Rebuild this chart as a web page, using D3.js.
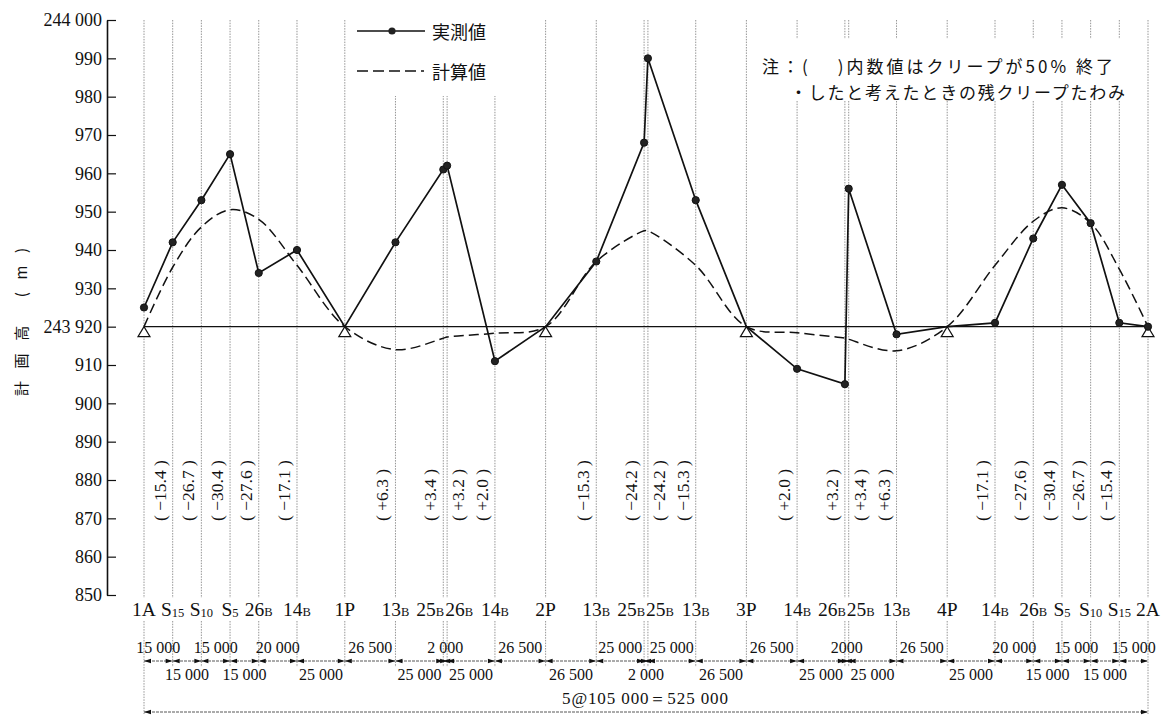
<!DOCTYPE html>
<html>
<head>
<meta charset="utf-8">
<script src="https://cdn.jsdelivr.net/npm/d3@7"></script>
<style>
  body { margin: 0; background: #fff; }
  svg text { font-family: "Liberation Serif", "DejaVu Serif", serif; fill: #111; }
  svg text.jp { font-family: "Noto Sans CJK JP", "Noto Sans CJK SC", sans-serif; }
</style>
</head>
<body>
<svg id="chart" width="1162" height="715"></svg>
<script>
// Stations along the 5-span girder, distance from abutment 1A (mm)
const stationPos = [0, 15000, 30000, 45000, 60000, 80000, 105000,
  131500, 156500, 158500, 183500, 210000,
  236500, 261500, 263500, 288500, 315000,
  341500, 366500, 368500, 393500, 420000,
  445000, 465000, 480000, 495000, 510000, 525000];

// Station names: [main text, subscript]
const stationName = [["1A",""],["S","15"],["S","10"],["S","5"],["26","B"],["14","B"],["1P",""],
  ["13","B"],["25","B"],["26","B"],["14","B"],["2P",""],
  ["13","B"],["25","B"],["25","B"],["13","B"],["3P",""],
  ["14","B"],["26","B"],["25","B"],["13","B"],["4P",""],
  ["14","B"],["26","B"],["S","5"],["S","10"],["S","15"],["2A",""]];

// Measured elevations (実測値)
const measured = [243925, 243942, 243953, 243965, 243934, 243940, 243920,
  243942, 243961, 243962, 243911, 243920,
  243937, 243968, 243990, 243953, 243920,
  243909, 243905, 243956, 243918, 243920,
  243921, 243943, 243957, 243947, 243921, 243920];

// Calculated elevations (計算値)
const calculated = [243920, 243935.5, 243946, 243950.5, 243948, 243936, 243920,
  243914, 243917, 243917.3, 243918.3, 243920,
  243937, 243945, 243945, 243936, 243920,
  243918.4, 243917, 243916.7, 243913.7, 243920,
  243936, 243947.5, 243951, 243947, 243935, 243920];

// Residual creep deflection at each station (50% creep completed)
const creepLabel = ["", "−15.4", "−26.7", "−30.4", "−27.6", "−17.1", "",
  "+6.3", "+3.4", "+3.2", "+2.0", "",
  "−15.3", "−24.2", "−24.2", "−15.3", "",
  "+2.0", "+3.2", "+3.4", "+6.3", "",
  "−17.1", "−27.6", "−30.4", "−26.7", "−15.4", ""];

// Segment dimensions between consecutive stations
const dimLabels = ["15 000","15 000","15 000","15 000","20 000","25 000",
  "26 500","25 000","2 000","25 000","26 500",
  "26 500","25 000","2 000","25 000","26 500",
  "26 500","25 000","2000","25 000","26 500",
  "25 000","20 000","15 000","15 000","15 000","15 000"];
const totalLabel = "5@105 000＝525 000";

// Elevation axis
const yTicks = [243850, 243860, 243870, 243880, 243890, 243900, 243910, 243920,
  243930, 243940, 243950, 243960, 243970, 243980, 243990, 244000];
const yTickLabels = ["850","860","870","880","890","900","910","243 920",
  "930","940","950","960","970","980","990","244 000"];
const baseElevation = 243920;

const svg = d3.select("#chart");
const x = d3.scaleLinear().domain([0, 525000]).range([144, 1148]);
const y = d3.scaleLinear().domain([243850, 244000]).range([595, 20]);

const isSupport = i => /[AP]$/.test(stationName[i][0]);

// ---- vertical station lines ----
const grid = svg.append("g")
  .attr("stroke", "#8a8a8a").attr("stroke-width", 0.9).attr("stroke-dasharray", "1.5,1.2");
stationPos.forEach((p, i) => {
  const xx = x(p);
  grid.append("line").attr("x1", xx).attr("x2", xx).attr("y1", y(244000)).attr("y2", 598);
  const end = (i === 0 || i === stationPos.length - 1) ? 714 : 667;
  grid.append("line").attr("x1", xx).attr("x2", xx).attr("y1", 621).attr("y2", end);
});

// clear space behind legend and note
svg.append("rect").attr("x", 352).attr("y", 18).attr("width", 168).attr("height", 78).attr("fill", "#fff");
svg.append("rect").attr("x", 758).attr("y", 39).attr("width", 372).attr("height", 62).attr("fill", "#fff");

// ---- y axis ----
const yAxis = d3.axisLeft(y)
  .tickValues(yTicks)
  .tickFormat((d, i) => yTickLabels[i])
  .tickSizeInner(-9).tickSizeOuter(0).tickPadding(5);
const ag = svg.append("g").attr("transform", "translate(107,0)").call(yAxis);
ag.select(".domain").attr("stroke", "#111").attr("stroke-width", 1.6);
ag.selectAll(".tick line").attr("stroke", "#111").attr("stroke-width", 1.2);
ag.selectAll(".tick text").attr("font-size", 18).attr("fill", "#111")
  .attr("font-family", "'Liberation Serif', serif");

svg.append("text").attr("class", "jp")
  .attr("transform", "translate(27,322) rotate(-90)")
  .attr("text-anchor", "middle").attr("font-size", 15)
  .attr("textLength", 148).attr("lengthAdjust", "spacing")
  .text("計画高 (m)");

// ---- reference line at the design elevation ----
svg.append("line")
  .attr("x1", x(0)).attr("x2", x(525000))
  .attr("y1", y(baseElevation)).attr("y2", y(baseElevation))
  .attr("stroke", "#111").attr("stroke-width", 1.4);

// ---- calculated curve ----
const calcLine = d3.line()
  .x((d, i) => x(stationPos[i])).y(d => y(d))
  .curve(d3.curveCatmullRom.alpha(0.5));
svg.append("path").datum(calculated)
  .attr("d", calcLine).attr("fill", "none")
  .attr("stroke", "#111").attr("stroke-width", 1.5).attr("stroke-dasharray", "10,5");

// ---- support triangles ----
stationPos.forEach((p, i) => {
  if (!isSupport(i)) return;
  const xx = x(p), yy = y(baseElevation);
  svg.append("path")
    .attr("d", `M${xx},${yy}L${xx - 6},${yy + 10}L${xx + 6},${yy + 10}Z`)
    .attr("fill", "#fff").attr("stroke", "#111").attr("stroke-width", 1.2);
});

// ---- measured line and points ----
const measLine = d3.line().x((d, i) => x(stationPos[i])).y(d => y(d));
svg.append("path").datum(measured)
  .attr("d", measLine).attr("fill", "none")
  .attr("stroke", "#111").attr("stroke-width", 1.7);
svg.append("g").selectAll("circle")
  .data(measured.map((v, i) => ({ v, i })).filter(d => !/P$/.test(stationName[d.i][0])))
  .join("circle")
  .attr("cx", d => x(stationPos[d.i])).attr("cy", d => y(d.v))
  .attr("r", 3.6).attr("fill", "#222").attr("stroke", "#111");

// ---- creep deflection labels (vertical) ----
stationPos.forEach((p, i) => {
  if (!creepLabel[i]) return;
  const closePrev = i > 0 && p - stationPos[i - 1] <= 2000;
  const cx = x(p) + (closePrev ? 11 : -13);
  svg.append("text")
    .attr("transform", `translate(${cx + 6},521) rotate(-90)`)
    .attr("font-size", 17.5).attr("fill", "#222")
    .text(`( ${creepLabel[i]} )`);
});

// ---- station names ----
stationPos.forEach((p, i) => {
  let dx = 0;
  if (i < stationPos.length - 1 && stationPos[i + 1] - p <= 2000) dx = -13;
  if (i > 0 && p - stationPos[i - 1] <= 2000) dx = 12;
  const t = svg.append("text")
    .attr("x", x(p) + dx).attr("y", 616)
    .attr("text-anchor", "middle").attr("font-size", 19.5);
  t.append("tspan").text(stationName[i][0]);
  if (stationName[i][1]) {
    const isS = stationName[i][0] === "S";
    t.append("tspan").attr("font-size", 12.5).attr("dy", isS ? 1 : 0)
      .text(stationName[i][1]);
  }
});

// ---- dimension line ----
const dimY = 661;
const arrow = (tx, yy, dir) => `M${tx},${yy}L${tx + dir * 7},${yy - 2.3}L${tx + dir * 7},${yy + 2.3}Z`;
svg.append("line").attr("x1", x(0)).attr("x2", x(525000)).attr("y1", dimY).attr("y2", dimY)
  .attr("stroke", "#444").attr("stroke-width", 0.9).attr("stroke-dasharray", "3,1");
const dg = svg.append("g");
dimLabels.forEach((lab, i) => {
  const x0 = x(stationPos[i]), x1 = x(stationPos[i + 1]);
  dg.append("path").attr("d", arrow(x0, dimY, 1)).attr("fill", "#111");
  dg.append("path").attr("d", arrow(x1, dimY, -1)).attr("fill", "#111");
  dg.append("text")
    .attr("x", (x0 + x1) / 2).attr("y", i % 2 === 0 ? 653 : 680)
    .attr("text-anchor", "middle").attr("font-size", 16).text(lab);
});

// ---- overall length ----
const totY = 712;
svg.append("line").attr("x1", x(0)).attr("x2", x(525000)).attr("y1", totY).attr("y2", totY)
  .attr("stroke", "#444").attr("stroke-width", 0.9).attr("stroke-dasharray", "3,1");
svg.append("path").attr("d", arrow(x(0), totY, 1)).attr("fill", "#111");
svg.append("path").attr("d", arrow(x(525000), totY, -1)).attr("fill", "#111");
svg.append("text").attr("x", 645).attr("y", 704).attr("text-anchor", "middle")
  .attr("font-size", 17).attr("textLength", 166).attr("lengthAdjust", "spacing")
  .text(totalLabel);

// ---- legend ----
const lg = svg.append("g");
lg.append("line").attr("x1", 357).attr("x2", 425).attr("y1", 31).attr("y2", 31)
  .attr("stroke", "#111").attr("stroke-width", 1.6);
lg.append("circle").attr("cx", 392).attr("cy", 31).attr("r", 3.6).attr("fill", "#222");
lg.append("text").attr("class", "jp").attr("x", 432).attr("y", 39).attr("font-size", 18).text("実測値");
lg.append("line").attr("x1", 357).attr("x2", 424).attr("y1", 71).attr("y2", 71)
  .attr("stroke", "#111").attr("stroke-width", 1.5).attr("stroke-dasharray", "11,5");
lg.append("text").attr("class", "jp").attr("x", 432).attr("y", 79).attr("font-size", 18).text("計算値");

// ---- note ----
svg.append("text").attr("class", "jp").attr("x", 762).attr("y", 73)
  .attr("font-size", 17).attr("textLength", 351).attr("lengthAdjust", "spacing")
  .text("注：(　 )内数値はクリープが50% 終了");
svg.append("text").attr("class", "jp").attr("x", 790).attr("y", 99)
  .attr("font-size", 17).attr("textLength", 335).attr("lengthAdjust", "spacing")
  .text("・したと考えたときの残クリープたわみ");
</script>
</body>
</html>
